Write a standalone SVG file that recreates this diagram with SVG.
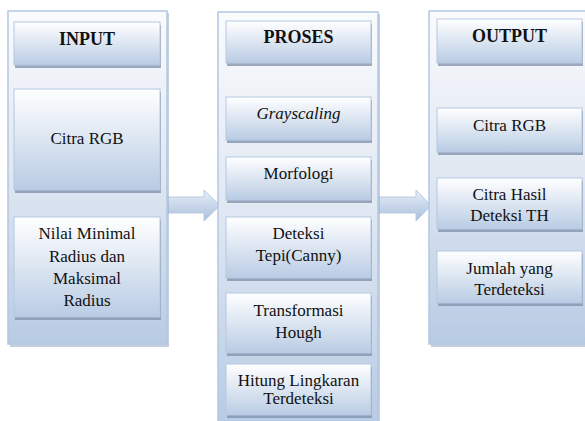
<svg xmlns="http://www.w3.org/2000/svg" width="585" height="421" viewBox="0 0 585 421">
<defs>
<linearGradient id="gCont" x1="0" y1="0" x2="0" y2="1">
<stop offset="0" stop-color="#fafbfd"/>
<stop offset="0.5" stop-color="#dfe7f2"/>
<stop offset="1" stop-color="#b8cbe4"/>
</linearGradient>
<linearGradient id="gBox" x1="0" y1="0" x2="0" y2="1">
<stop offset="0" stop-color="#ffffff"/>
<stop offset="1" stop-color="#b9cce4"/>
</linearGradient>
<linearGradient id="gArrow" x1="0" y1="0" x2="0" y2="1">
<stop offset="0" stop-color="#e8eef7"/>
<stop offset="1" stop-color="#a9bfdc"/>
</linearGradient>
</defs>
<style>
.cont{fill:url(#gCont);stroke:#b3c7e2;stroke-width:1.5}
.cshadow{fill:#9fb0c8;opacity:0.6}
.box{fill:url(#gBox);stroke:#b5c8e1;stroke-width:1}
.shadow{fill:#7e8fa8;opacity:0.75}
.arrow{fill:url(#gArrow);stroke:#b8cae2;stroke-width:1}
text{font-family:"Liberation Serif","Times New Roman",serif;font-size:17px;fill:#111;text-anchor:middle}
.hdr{font-weight:bold;font-size:18px}
.it{font-style:italic}
</style>

<g id="connectors">
<path class="arrow" d="M167,197 L204,197 L204,190 L220,205.5 L204,221 L204,213 L167,213 Z"/>
<path class="arrow" d="M378,197 L416,197 L416,190 L431,205.5 L416,221 L416,213 L378,213 Z"/>
</g>

<g id="input">
<rect class="cshadow" x="10" y="13" width="159" height="334"/>
<rect class="cont" x="8" y="11" width="159" height="333"/>
<g id="input-header">
<rect class="shadow" x="15" y="25" width="146" height="43"/>
<rect class="box" x="14" y="22" width="146" height="43"/>
<text class="hdr" x="87" y="45">INPUT</text>
</g>
<g id="input-citra">
<rect class="shadow" x="15" y="92" width="146" height="101"/>
<rect class="box" x="14" y="89" width="146" height="101"/>
<text x="87" y="144">Citra RGB</text>
</g>
<g id="input-nilai">
<rect class="shadow" x="15" y="220" width="146" height="100"/>
<rect class="box" x="14" y="217" width="146" height="100"/>
<text x="87" y="239">Nilai Minimal</text>
<text x="87" y="262">Radius dan</text>
<text x="87" y="284">Maksimal</text>
<text x="87" y="306">Radius</text>
</g>
</g>

<g id="proses">
<rect class="cshadow" x="220" y="14" width="160" height="410"/>
<rect class="cont" x="218" y="12" width="160" height="412"/>
<g id="proses-header">
<rect class="shadow" x="227" y="24" width="145" height="42"/>
<rect class="box" x="226" y="21" width="145" height="42"/>
<text class="hdr" x="298.5" y="43">PROSES</text>
</g>
<g id="grayscaling">
<rect class="shadow" x="227" y="100" width="145" height="43"/>
<rect class="box" x="226" y="97" width="145" height="43"/>
<text class="it" x="298.5" y="119">Grayscaling</text>
</g>
<g id="morfologi">
<rect class="shadow" x="227" y="160" width="145" height="43"/>
<rect class="box" x="226" y="157" width="145" height="43"/>
<text x="298.5" y="179">Morfologi</text>
</g>
<g id="deteksi">
<rect class="shadow" x="227" y="220" width="145" height="61"/>
<rect class="box" x="226" y="217" width="145" height="61"/>
<text x="298.5" y="239">Deteksi</text>
<text x="298.5" y="261">Tepi(Canny)</text>
</g>
<g id="hough">
<rect class="shadow" x="227" y="296" width="145" height="60"/>
<rect class="box" x="226" y="293" width="145" height="60"/>
<text x="298.5" y="316">Transformasi</text>
<text x="298.5" y="338">Hough</text>
</g>
<g id="hitung">
<rect class="shadow" x="227" y="367" width="145" height="51"/>
<rect class="box" x="226" y="364" width="145" height="51"/>
<text x="298.5" y="386">Hitung Lingkaran</text>
<text x="298.5" y="404">Terdeteksi</text>
</g>
</g>

<g id="output">
<rect class="cshadow" x="431" y="13" width="160" height="334"/>
<rect class="cont" x="429" y="11" width="160" height="333"/>
<g id="output-header">
<rect class="shadow" x="438" y="22" width="145" height="44"/>
<rect class="box" x="437" y="19" width="145" height="44"/>
<text class="hdr" x="509.5" y="42">OUTPUT</text>
</g>
<g id="output-citra">
<rect class="shadow" x="438" y="111" width="145" height="44"/>
<rect class="box" x="437" y="108" width="145" height="44"/>
<text x="509.5" y="131">Citra RGB</text>
</g>
<g id="output-hasil">
<rect class="shadow" x="438" y="181" width="145" height="51"/>
<rect class="box" x="437" y="178" width="145" height="51"/>
<text x="509.5" y="200">Citra Hasil</text>
<text x="509.5" y="221">Deteksi TH</text>
</g>
<g id="output-jumlah">
<rect class="shadow" x="438" y="254" width="145" height="52"/>
<rect class="box" x="437" y="251" width="145" height="52"/>
<text x="509.5" y="274">Jumlah yang</text>
<text x="509.5" y="295">Terdeteksi</text>
</g>
</g>
</svg>
